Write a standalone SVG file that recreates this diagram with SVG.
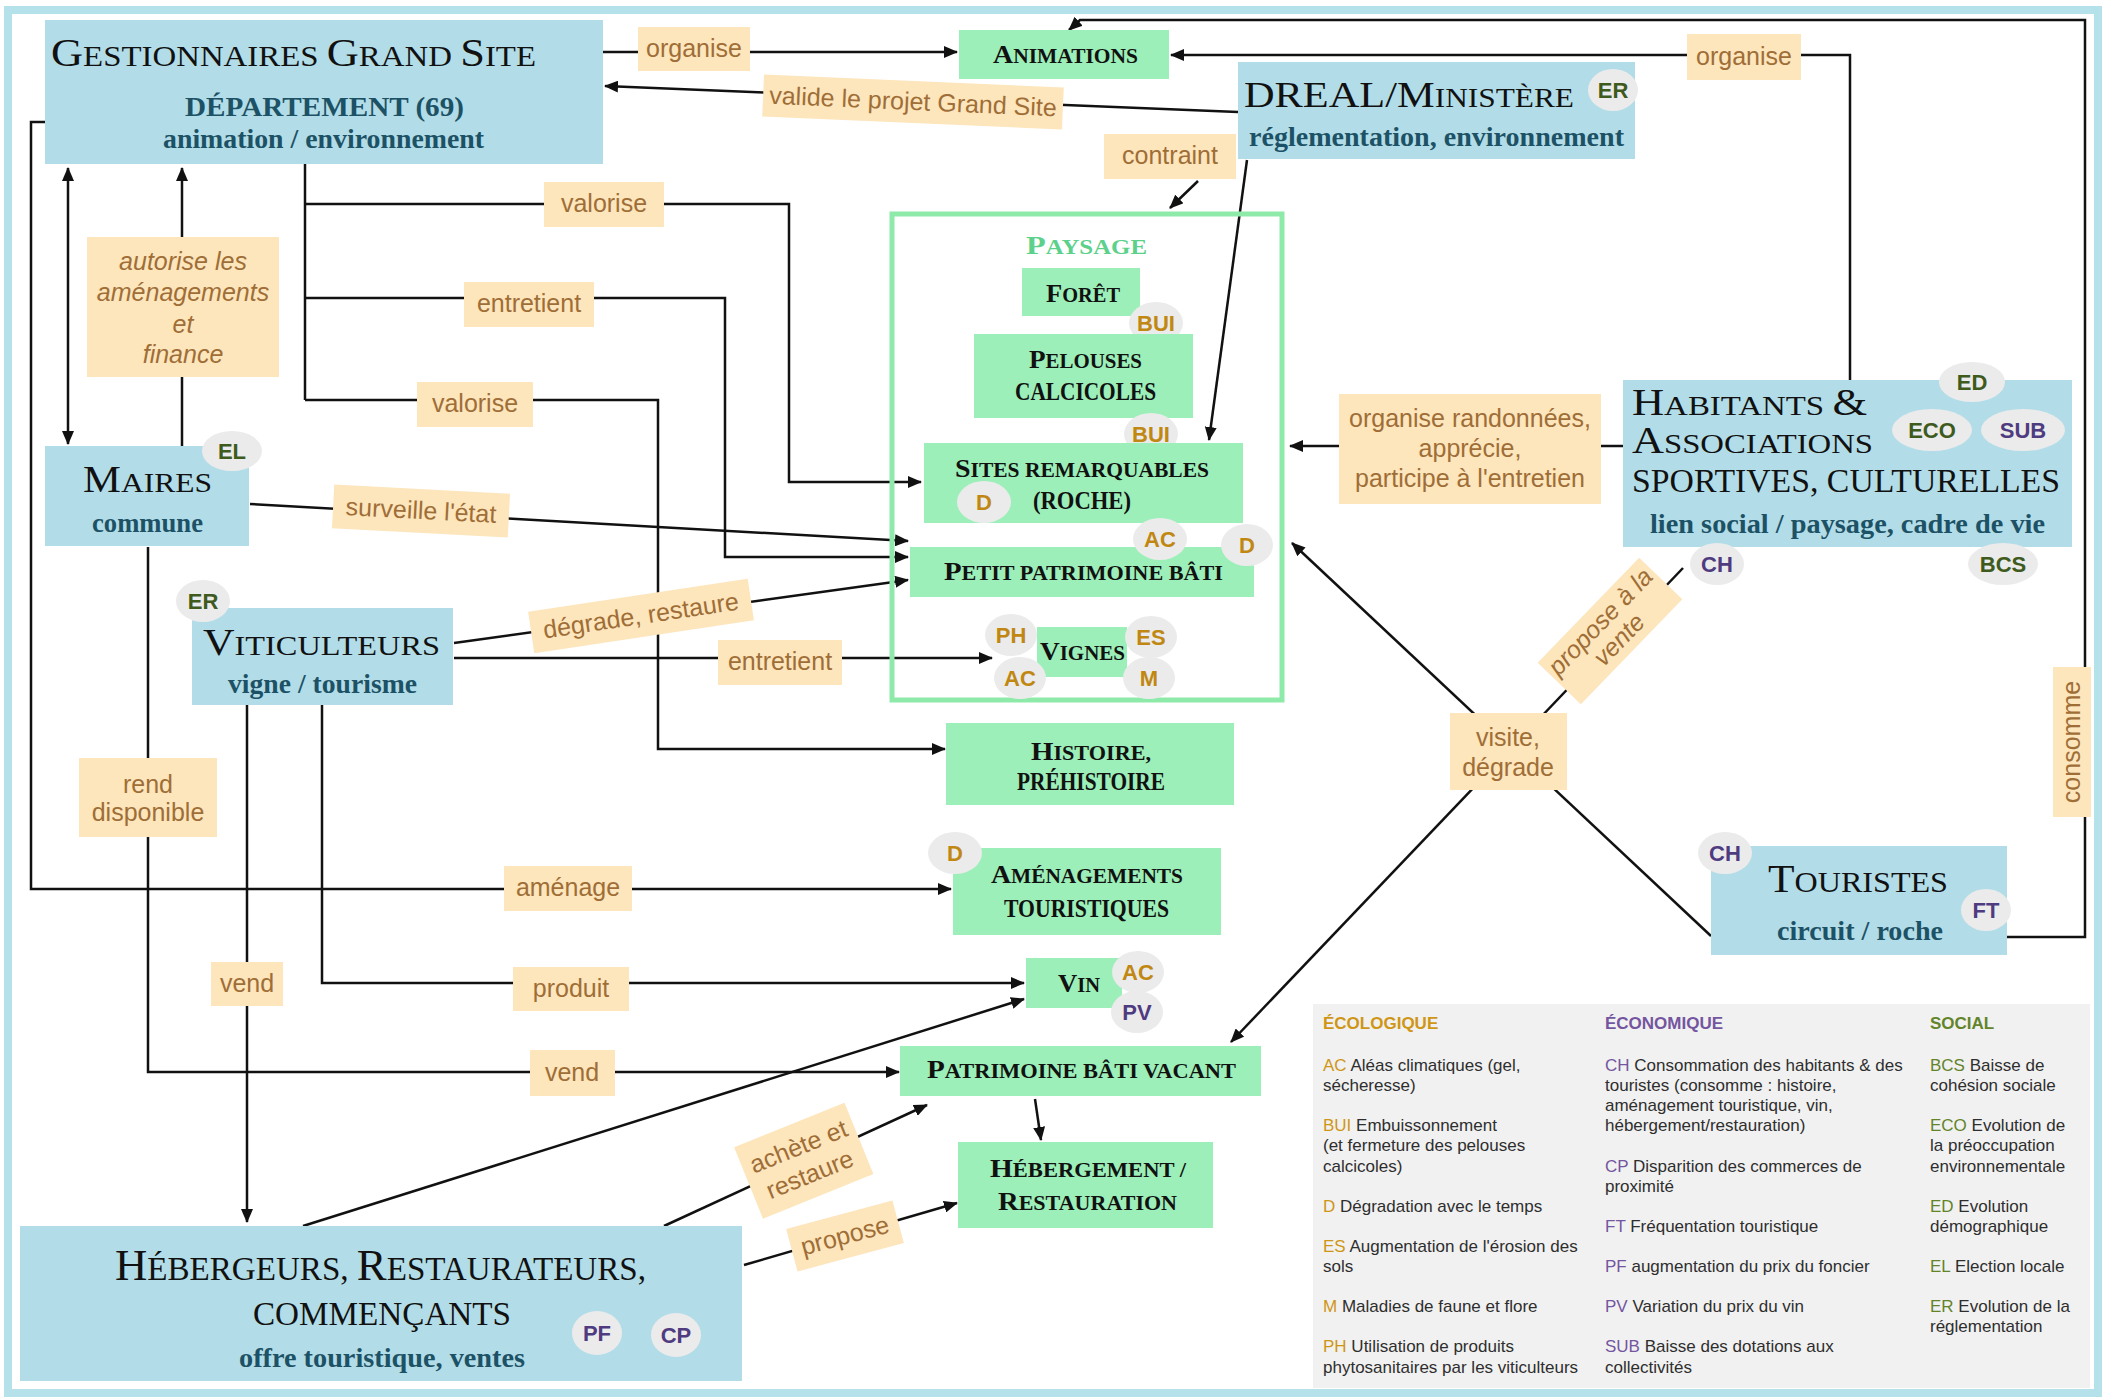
<svg xmlns="http://www.w3.org/2000/svg" width="2107" height="1399" viewBox="0 0 2107 1399">
<defs>
<marker id="arr" viewBox="0 0 14 12" refX="13" refY="6" markerWidth="14" markerHeight="12" markerUnits="userSpaceOnUse" orient="auto-start-reverse"><path d="M0,0 L14,6 L0,12 z" fill="#111"/></marker>
</defs>
<style>
.blue{fill:#b2dde8}
.green{fill:#9cefb8}
.lab{fill:#fde5bc}
.lt{font-family:"Liberation Sans",Arial,sans-serif;font-size:25px;fill:#9f6e37;text-anchor:middle}
.it{font-style:italic}
.ttl{font-family:"Liberation Serif","Times New Roman",serif;fill:#111}
.sc{font-size:74%}
.sub{font-family:"Liberation Serif","Times New Roman",serif;font-weight:bold;fill:#1d5266;font-size:27px}
.gt{font-family:"Liberation Serif","Times New Roman",serif;font-weight:bold;fill:#111;font-size:26px}
.gsc{font-size:77%}
.bdg{fill:#ebebeb}
.bt{font-family:"Liberation Sans",Arial,sans-serif;font-weight:bold;font-size:22px;text-anchor:middle}
.ecl{fill:#c08712}
.ecn{fill:#4f3b80}
.soc{fill:#3e5a1c}
.conn{stroke:#111;stroke-width:2.5;fill:none}
.lg{font-family:"Liberation Sans",Arial,sans-serif;font-size:17px;fill:#2e2e2e}
.lh{font-weight:bold}
.c1{fill:#cf9616}
.c2{fill:#74559f}
.c3{fill:#638429}
</style>
<rect x="0" y="0" width="2107" height="1399" fill="#fff"/>
<rect x="8" y="10" width="2090" height="1383" fill="#fff" stroke="#b4e1ea" stroke-width="8"/>

<g id="connectors" class="conn">
<path d="M603,52 H957" marker-end="url(#arr)"/>
<path d="M1238,112 L605,86" marker-end="url(#arr)"/>
<path d="M2007,937 H2085 V20 H1080 L1069,30" marker-end="url(#arr)"/>
<path d="M1850,380 V55 H1171" marker-end="url(#arr)"/>
<path d="M1247,160 L1209,440" marker-end="url(#arr)"/>
<path d="M1198,181 L1170,208" marker-end="url(#arr)"/>
<path d="M305,164 V400"/>
<path d="M305,204 H789 V482 H921" marker-end="url(#arr)"/>
<path d="M305,298 H725 V557 H908" marker-end="url(#arr)"/>
<path d="M305,400 H658 V749 H945" marker-end="url(#arr)"/>
<path d="M45,122 H31 V889 H951" marker-end="url(#arr)"/>
<path d="M68,168 V444" marker-start="url(#arr)" marker-end="url(#arr)"/>
<path d="M182,446 V168" marker-end="url(#arr)"/>
<path d="M250,504 L908,541" marker-end="url(#arr)"/>
<path d="M148,547 V1072 H899" marker-end="url(#arr)"/>
<path d="M454,643 L908,580" marker-end="url(#arr)"/>
<path d="M454,658 H992" marker-end="url(#arr)"/>
<path d="M247,705 V1222" marker-end="url(#arr)"/>
<path d="M322,705 V983 H1024" marker-end="url(#arr)"/>
<path d="M303,1226 L1024,999" marker-end="url(#arr)"/>
<path d="M664,1226 L927,1105" marker-end="url(#arr)"/>
<path d="M744,1265 L957,1203" marker-end="url(#arr)"/>
<path d="M1035,1099 L1041,1140" marker-end="url(#arr)"/>
<path d="M1711,936 L1292,543" marker-end="url(#arr)"/>
<path d="M1683,568 L1231,1042" marker-end="url(#arr)"/>
<path d="M1623,446 H1290" marker-end="url(#arr)"/>
</g>

<g id="edge-labels">
<g transform="translate(694,49)"><rect class="lab" x="-56" y="-22" width="112" height="44"/><text class="lt" y="8">organise</text></g>
<g transform="translate(913,102) rotate(2.5)"><rect class="lab" x="-150" y="-21" width="300" height="42"/><text class="lt" y="8">valide le projet Grand Site</text></g>
<g transform="translate(1744,57)"><rect class="lab" x="-57" y="-23" width="114" height="46"/><text class="lt" y="8">organise</text></g>
<g transform="translate(1170,156)"><rect class="lab" x="-66" y="-22" width="132" height="45"/><text class="lt" y="8">contraint</text></g>
<g transform="translate(604,204)"><rect class="lab" x="-60" y="-22" width="120" height="45"/><text class="lt" y="8">valorise</text></g>
<g transform="translate(183,307)"><rect class="lab" x="-96" y="-70" width="192" height="140"/><text class="lt it" y="-37">autorise les</text><text class="lt it" y="-6">aménagements</text><text class="lt it" y="26">et</text><text class="lt it" y="56">finance</text></g>
<g transform="translate(529,304)"><rect class="lab" x="-65" y="-22" width="130" height="45"/><text class="lt" y="8">entretient</text></g>
<g transform="translate(475,404)"><rect class="lab" x="-58" y="-22" width="116" height="45"/><text class="lt" y="8">valorise</text></g>
<g transform="translate(421,511) rotate(3)"><rect class="lab" x="-88" y="-22" width="176" height="44"/><text class="lt" y="8">surveille l'état</text></g>
<g transform="translate(1470,449)"><rect class="lab" x="-131" y="-55" width="262" height="110"/><text class="lt" y="-22">organise randonnées,</text><text class="lt" y="8">apprécie,</text><text class="lt" y="38">participe à l'entretien</text></g>
<g transform="translate(641,616) rotate(-8.5)"><rect class="lab" x="-111" y="-21" width="222" height="42"/><text class="lt" y="8">dégrade, restaure</text></g>
<g transform="translate(780,662)"><rect class="lab" x="-62" y="-22" width="124" height="45"/><text class="lt" y="8">entretient</text></g>
<g transform="translate(148,797)"><rect class="lab" x="-69" y="-39" width="138" height="79"/><text class="lt" y="-4">rend</text><text class="lt" y="24">disponible</text></g>
<g transform="translate(568,888)"><rect class="lab" x="-64" y="-22" width="128" height="45"/><text class="lt" y="8">aménage</text></g>
<g transform="translate(247,984)"><rect class="lab" x="-36" y="-22" width="72" height="44"/><text class="lt" y="8">vend</text></g>
<g transform="translate(571,989)"><rect class="lab" x="-58" y="-22" width="116" height="44"/><text class="lt" y="8">produit</text></g>
<g transform="translate(572,1073)"><rect class="lab" x="-42" y="-23" width="85" height="46"/><text class="lt" y="8">vend</text></g>
<g transform="translate(1508,752)"><rect class="lab" x="-58" y="-39" width="117" height="77"/><text class="lt" y="-6">visite,</text><text class="lt" y="24">dégrade</text></g>
<g transform="translate(1610,631) rotate(-46)"><rect class="lab" x="-73" y="-30" width="146" height="60"/><text class="lt it" y="-5">propose à la</text><text class="lt it" y="21">vente</text></g>
<g transform="translate(804,1160) rotate(-22)"><rect class="lab" x="-60" y="-38" width="119" height="77"/><text class="lt" y="-6">achète et</text><text class="lt" y="24">restaure</text></g>
<g transform="translate(845,1236) rotate(-15)"><rect class="lab" x="-55" y="-22" width="110" height="44"/><text class="lt" y="8">propose</text></g>
<g transform="translate(2072,742) rotate(-90)"><rect class="lab" x="-75" y="-19" width="150" height="38"/><text class="lt" y="8">consomme</text></g>
</g>

<g id="gestionnaires">
<rect class="blue" x="45" y="20" width="558" height="144"/>
<text class="ttl" x="51" y="66" font-size="41" textLength="485" lengthAdjust="spacingAndGlyphs">G<tspan class="sc">ESTIONNAIRES </tspan>G<tspan class="sc">RAND </tspan>S<tspan class="sc">ITE</tspan></text>
<text class="sub" x="185" y="116" textLength="279" lengthAdjust="spacingAndGlyphs">DÉPARTEMENT (69)</text>
<text class="sub" x="163" y="148" textLength="321" lengthAdjust="spacingAndGlyphs">animation / environnement</text>
</g>

<g id="dreal">
<rect class="blue" x="1238" y="62" width="397" height="97"/>
<text class="ttl" x="1244" y="107" font-size="36" textLength="330" lengthAdjust="spacingAndGlyphs">DREAL/M<tspan class="sc">INISTÈRE</tspan></text>
<text class="sub" x="1249" y="146" textLength="375" lengthAdjust="spacingAndGlyphs">réglementation, environnement</text>
<ellipse class="bdg" cx="1613" cy="90" rx="25" ry="21"/><text class="bt soc" x="1613" y="98">ER</text>
</g>

<g id="maires">
<rect class="blue" x="45" y="446" width="204" height="100"/>
<text class="ttl" x="83" y="492" font-size="37" textLength="129" lengthAdjust="spacingAndGlyphs">M<tspan class="sc">AIRES</tspan></text>
<text class="sub" x="92" y="532" textLength="111" lengthAdjust="spacingAndGlyphs">commune</text>
<ellipse class="bdg" cx="232" cy="451" rx="30" ry="20"/><text class="bt soc" x="232" y="459">EL</text>
</g>

<g id="viticulteurs">
<rect class="blue" x="192" y="608" width="261" height="97"/>
<text class="ttl" x="203" y="655" font-size="38" textLength="237" lengthAdjust="spacingAndGlyphs">V<tspan class="sc">ITICULTEURS</tspan></text>
<text class="sub" x="228" y="693" textLength="189" lengthAdjust="spacingAndGlyphs">vigne / tourisme</text>
<ellipse class="bdg" cx="203" cy="601" rx="27" ry="21"/><text class="bt soc" x="203" y="609">ER</text>
</g>

<g id="habitants">
<rect class="blue" x="1623" y="380" width="449" height="167"/>
<text class="ttl" x="1632" y="415" font-size="38" textLength="235" lengthAdjust="spacingAndGlyphs">H<tspan class="sc">ABITANTS </tspan>&amp;</text>
<text class="ttl" x="1632" y="453" font-size="38" textLength="241" lengthAdjust="spacingAndGlyphs">A<tspan class="sc">SSOCIATIONS</tspan></text>
<text class="ttl" x="1632" y="492" font-size="34" textLength="428" lengthAdjust="spacingAndGlyphs">SPORTIVES, CULTURELLES</text>
<text class="sub" x="1650" y="533" textLength="395" lengthAdjust="spacingAndGlyphs">lien social / paysage, cadre de vie</text>
<ellipse class="bdg" cx="1972" cy="382" rx="33" ry="20"/><text class="bt soc" x="1972" y="390">ED</text>
<ellipse class="bdg" cx="1932" cy="430" rx="40" ry="21"/><text class="bt soc" x="1932" y="438">ECO</text>
<ellipse class="bdg" cx="2023" cy="430" rx="42" ry="21"/><text class="bt ecn" x="2023" y="438">SUB</text>
<ellipse class="bdg" cx="1717" cy="564" rx="27" ry="21"/><text class="bt ecn" x="1717" y="572">CH</text>
<ellipse class="bdg" cx="2003" cy="564" rx="35" ry="21"/><text class="bt soc" x="2003" y="572">BCS</text>
</g>

<g id="touristes">
<rect class="blue" x="1711" y="846" width="296" height="109"/>
<text class="ttl" x="1768" y="892" font-size="40" textLength="180" lengthAdjust="spacingAndGlyphs">T<tspan class="sc">OURISTES</tspan></text>
<text class="sub" x="1777" y="940" textLength="166" lengthAdjust="spacingAndGlyphs">circuit / roche</text>
<ellipse class="bdg" cx="1725" cy="853" rx="27" ry="21"/><text class="bt ecn" x="1725" y="861">CH</text>
<ellipse class="bdg" cx="1986" cy="910" rx="25" ry="21"/><text class="bt ecn" x="1986" y="918">FT</text>
</g>

<g id="hebergeurs">
<rect class="blue" x="20" y="1226" width="722" height="155"/>
<text class="ttl" x="115" y="1280" font-size="45" textLength="531" lengthAdjust="spacingAndGlyphs">H<tspan class="sc">ÉBERGEURS, </tspan>R<tspan class="sc">ESTAURATEURS,</tspan></text>
<text class="ttl" x="253" y="1325" font-size="34" textLength="258" lengthAdjust="spacingAndGlyphs">COMMENÇANTS</text>
<text class="sub" x="239" y="1367" textLength="286" lengthAdjust="spacingAndGlyphs">offre touristique, ventes</text>
<ellipse class="bdg" cx="597" cy="1333" rx="25" ry="22"/><text class="bt ecn" x="597" y="1341">PF</text>
<ellipse class="bdg" cx="676" cy="1335" rx="25" ry="22"/><text class="bt ecn" x="676" y="1343">CP</text>
</g>

<g id="animations">
<rect class="green" x="959" y="30" width="210" height="49"/>
<text class="gt" x="993" y="63" textLength="145" lengthAdjust="spacingAndGlyphs">A<tspan class="gsc">NIMATIONS</tspan></text>
</g>

<g id="paysage">
<rect x="892" y="214" width="390" height="486" fill="none" stroke="#8eeaa9" stroke-width="5"/>
<text class="gt" x="1026" y="254" font-size="30" style="fill:#5cd18c" textLength="121" lengthAdjust="spacingAndGlyphs">P<tspan class="gsc">AYSAGE</tspan></text>
</g>

<g id="foret">
<rect class="green" x="1022" y="268" width="118" height="48"/>
<text class="gt" x="1046" y="302" textLength="74" lengthAdjust="spacingAndGlyphs">F<tspan class="gsc">ORÊT</tspan></text>
<ellipse class="bdg" cx="1156" cy="323" rx="27" ry="21"/><text class="bt ecl" x="1156" y="331">BUI</text>
</g>

<g id="pelouses">
<rect class="green" x="974" y="334" width="219" height="84"/>
<text class="gt" x="1029" y="368" textLength="113" lengthAdjust="spacingAndGlyphs">P<tspan class="gsc">ELOUSES</tspan></text>
<text class="gt" x="1015" y="400" font-size="20" textLength="141" lengthAdjust="spacingAndGlyphs">CALCICOLES</text>
<ellipse class="bdg" cx="1151" cy="434" rx="27" ry="21"/><text class="bt ecl" x="1151" y="442">BUI</text>
</g>

<g id="sites">
<rect class="green" x="924" y="443" width="319" height="80"/>
<text class="gt" x="955" y="477" textLength="254" lengthAdjust="spacingAndGlyphs">S<tspan class="gsc">ITES REMARQUABLES</tspan></text>
<text class="gt" x="1033" y="509" font-size="20" textLength="98" lengthAdjust="spacingAndGlyphs">(ROCHE)</text>
<ellipse class="bdg" cx="984" cy="502" rx="27" ry="21"/><text class="bt ecl" x="984" y="510">D</text>
</g>

<g id="petit-patrimoine">
<rect class="green" x="910" y="547" width="344" height="50"/>
<text class="gt" x="944" y="580" textLength="279" lengthAdjust="spacingAndGlyphs">P<tspan class="gsc">ETIT PATRIMOINE BÂTI</tspan></text>
<ellipse class="bdg" cx="1160" cy="539" rx="27" ry="21"/><text class="bt ecl" x="1160" y="547">AC</text>
<ellipse class="bdg" cx="1247" cy="545" rx="26" ry="21"/><text class="bt ecl" x="1247" y="553">D</text>
</g>

<g id="vignes">
<rect class="green" x="1037" y="627" width="90" height="50"/>
<ellipse class="bdg" cx="1011" cy="635" rx="26" ry="21"/><text class="bt ecl" x="1011" y="643">PH</text>
<ellipse class="bdg" cx="1151" cy="637" rx="26" ry="21"/><text class="bt ecl" x="1151" y="645">ES</text>
<ellipse class="bdg" cx="1020" cy="678" rx="26" ry="21"/><text class="bt ecl" x="1020" y="686">AC</text>
<ellipse class="bdg" cx="1149" cy="678" rx="26" ry="21"/><text class="bt ecl" x="1149" y="686">M</text>
<text class="gt" x="1040" y="660" textLength="85" lengthAdjust="spacingAndGlyphs">V<tspan class="gsc">IGNES</tspan></text>
</g>

<g id="histoire">
<rect class="green" x="946" y="723" width="288" height="82"/>
<text class="gt" x="1031" y="760" textLength="120" lengthAdjust="spacingAndGlyphs">H<tspan class="gsc">ISTOIRE,</tspan></text>
<text class="gt" x="1017" y="790" font-size="20" textLength="148" lengthAdjust="spacingAndGlyphs">PRÉHISTOIRE</text>
</g>

<g id="amenagements">
<rect class="green" x="953" y="848" width="268" height="87"/>
<text class="gt" x="991" y="883" textLength="192" lengthAdjust="spacingAndGlyphs">A<tspan class="gsc">MÉNAGEMENTS</tspan></text>
<text class="gt" x="1004" y="917" font-size="20" textLength="165" lengthAdjust="spacingAndGlyphs">TOURISTIQUES</text>
<ellipse class="bdg" cx="955" cy="853" rx="27" ry="21"/><text class="bt ecl" x="955" y="861">D</text>
</g>

<g id="vin">
<rect class="green" x="1026" y="958" width="96" height="50"/>
<text class="gt" x="1058" y="992" textLength="42" lengthAdjust="spacingAndGlyphs">V<tspan class="gsc">IN</tspan></text>
<ellipse class="bdg" cx="1138" cy="972" rx="26" ry="21"/><text class="bt ecl" x="1138" y="980">AC</text>
<ellipse class="bdg" cx="1137" cy="1012" rx="26" ry="21"/><text class="bt ecn" x="1137" y="1020">PV</text>
</g>

<g id="patrimoine-vacant">
<rect class="green" x="900" y="1046" width="361" height="50"/>
<text class="gt" x="927" y="1078" textLength="309" lengthAdjust="spacingAndGlyphs">P<tspan class="gsc">ATRIMOINE BÂTI VACANT</tspan></text>
</g>

<g id="hebergement">
<rect class="green" x="958" y="1142" width="255" height="86"/>
<text class="gt" x="990" y="1177" textLength="196" lengthAdjust="spacingAndGlyphs">H<tspan class="gsc">ÉBERGEMENT /</tspan></text>
<text class="gt" x="998" y="1210" textLength="179" lengthAdjust="spacingAndGlyphs">R<tspan class="gsc">ESTAURATION</tspan></text>
</g>

<g id="legend">
<rect x="1313" y="1004" width="777" height="384" fill="#f1f1f1"/>
<text class="lg lh c1" x="1323" y="1029">ÉCOLOGIQUE</text>
<text class="lg lh c2" x="1605" y="1029">ÉCONOMIQUE</text>
<text class="lg lh c3" x="1930" y="1029">SOCIAL</text>
<text class="lg" x="1323" y="1071"><tspan class="c1">AC</tspan> Aléas climatiques (gel,</text>
<text class="lg" x="1323" y="1091">sécheresse)</text>
<text class="lg" x="1323" y="1131"><tspan class="c1">BUI</tspan> Embuissonnement</text>
<text class="lg" x="1323" y="1151">(et fermeture des pelouses</text>
<text class="lg" x="1323" y="1172">calcicoles)</text>
<text class="lg" x="1323" y="1212"><tspan class="c1">D</tspan> Dégradation avec le temps</text>
<text class="lg" x="1323" y="1252"><tspan class="c1">ES</tspan> Augmentation de l'érosion des</text>
<text class="lg" x="1323" y="1272">sols</text>
<text class="lg" x="1323" y="1312"><tspan class="c1">M</tspan> Maladies de faune et flore</text>
<text class="lg" x="1323" y="1352"><tspan class="c1">PH</tspan> Utilisation de produits</text>
<text class="lg" x="1323" y="1373">phytosanitaires par les viticulteurs</text>
<text class="lg" x="1605" y="1071"><tspan class="c2">CH</tspan> Consommation des habitants &amp; des</text>
<text class="lg" x="1605" y="1091">touristes (consomme : histoire,</text>
<text class="lg" x="1605" y="1111">aménagement touristique, vin,</text>
<text class="lg" x="1605" y="1131">hébergement/restauration)</text>
<text class="lg" x="1605" y="1172"><tspan class="c2">CP</tspan> Disparition des commerces de</text>
<text class="lg" x="1605" y="1192">proximité</text>
<text class="lg" x="1605" y="1232"><tspan class="c2">FT</tspan> Fréquentation touristique</text>
<text class="lg" x="1605" y="1272"><tspan class="c2">PF</tspan> augmentation du prix du foncier</text>
<text class="lg" x="1605" y="1312"><tspan class="c2">PV</tspan> Variation du prix du vin</text>
<text class="lg" x="1605" y="1352"><tspan class="c2">SUB</tspan> Baisse des dotations aux</text>
<text class="lg" x="1605" y="1373">collectivités</text>
<text class="lg" x="1930" y="1071"><tspan class="c3">BCS</tspan> Baisse de</text>
<text class="lg" x="1930" y="1091">cohésion sociale</text>
<text class="lg" x="1930" y="1131"><tspan class="c3">ECO</tspan> Evolution de</text>
<text class="lg" x="1930" y="1151">la préoccupation</text>
<text class="lg" x="1930" y="1172">environnementale</text>
<text class="lg" x="1930" y="1212"><tspan class="c3">ED</tspan> Evolution</text>
<text class="lg" x="1930" y="1232">démographique</text>
<text class="lg" x="1930" y="1272"><tspan class="c3">EL</tspan> Election locale</text>
<text class="lg" x="1930" y="1312"><tspan class="c3">ER</tspan> Evolution de la</text>
<text class="lg" x="1930" y="1332">réglementation</text>
</g>
</svg>
